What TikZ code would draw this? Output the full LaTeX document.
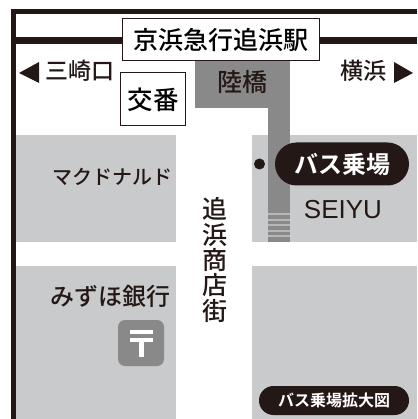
\documentclass[tikz,border=0pt]{standalone}
\usepackage{fontspec}
\setmainfont{Noto Sans CJK JP Medium}
\newfontfamily\pillfont{Noto Sans CJK JP Bold}
\setsansfont{Liberation Sans}
\definecolor{ink}{HTML}{231815}
\definecolor{blockgrey}{HTML}{C9CACB}
\definecolor{bridgegrey}{HTML}{898989}
\tikzset{
  wall/.style={fill=ink,draw=none},
  boxed/.style={draw=ink,line width=1pt,fill=white,inner sep=0pt,anchor=center},
  lbl/.style={text=ink,inner sep=0pt,anchor=center},
  pill/.style={fill=ink,text=white,rounded corners=#1,inner sep=0pt,anchor=center},
}
\newcommand{\fs}[1]{\fontsize{#1}{#1}\selectfont}
\begin{document}
\begin{tikzpicture}[x=1pt,y=-1pt]
\useasboundingbox (0,0) rectangle (417,419);
\fill[white] (0,0) rectangle (417,419);
% blocks
\fill[blockgrey] (16,135) rectangle (176,242);
\fill[blockgrey] (16,266) rectangle (176,419);
\fill[blockgrey] (252,135) rectangle (417,242);
\fill[blockgrey] (252,266) rectangle (417,419);
% bridge
\fill[bridgegrey] (195,55) rectangle (290,108);
\fill[bridgegrey] (268,108) rectangle (290,242);
\foreach \yy in {213,218.5,224,229.5,235}
  \fill[blockgrey!70!bridgegrey] (268,\yy) rectangle (290,\yy+2);
% frame and railway
\fill[wall] (11,9) rectangle (417,14);
\fill[wall] (11,9) rectangle (16,419);
\fill[wall] (16,37) rectangle (417,44);
% boxes
\node[boxed,minimum width=197pt,minimum height=42pt] (station) at (220.5,40) {\fs{25}京浜急行追浜駅};
\node[boxed,minimum width=65pt,minimum height=53pt] (koban) at (153,99.5) {\fs{25.5}交番};
% labels
\node[lbl] (rikkyo) at (242,82) {\fs{25}陸橋};
\node[lbl] (misaki) at (79.5,71) {\fs{23}三崎口};
\fill[ink] (19,73) -- (39,62) -- (39,83) -- cycle;
\node[lbl] (yoko) at (363,71) {\fs{23}横浜};
\fill[ink] (394,62) -- (413,73) -- (394,83) -- cycle;
\node[lbl] (mac) at (112,177) {\fs{20}マクドナルド};
\node[lbl] (mizuho) at (110,296) {\fs{24}みずほ銀行};
\node[lbl,align=center,font=\fontsize{25}{25.4}\selectfont] (street) at (215,260) {追\\浜\\商\\店\\街};
\node[lbl,font=\sffamily] (seiyu) at (343,209.5) {\fs{26}SEIYU};
% bus
\fill[ink] (259.5,164) circle (5.5);
\node[pill=21.5pt,minimum width=134pt,minimum height=43pt] (bus) at (342,164) {\pillfont\fs{24}バス乗場};
\node[pill=14.5pt,minimum width=150pt,minimum height=29pt] (busmap) at (334,400.5) {\pillfont\fs{16}バス乗場拡大図};
% post
\fill[bridgegrey,rounded corners=7pt] (118,320) rectangle (164,366);
\fill[white] (130,330) rectangle (153,333.5);
\fill[white] (130,337.5) rectangle (153,341.5);
\fill[white] (138.5,337.5) rectangle (143.5,357);
\end{tikzpicture}
\end{document}
